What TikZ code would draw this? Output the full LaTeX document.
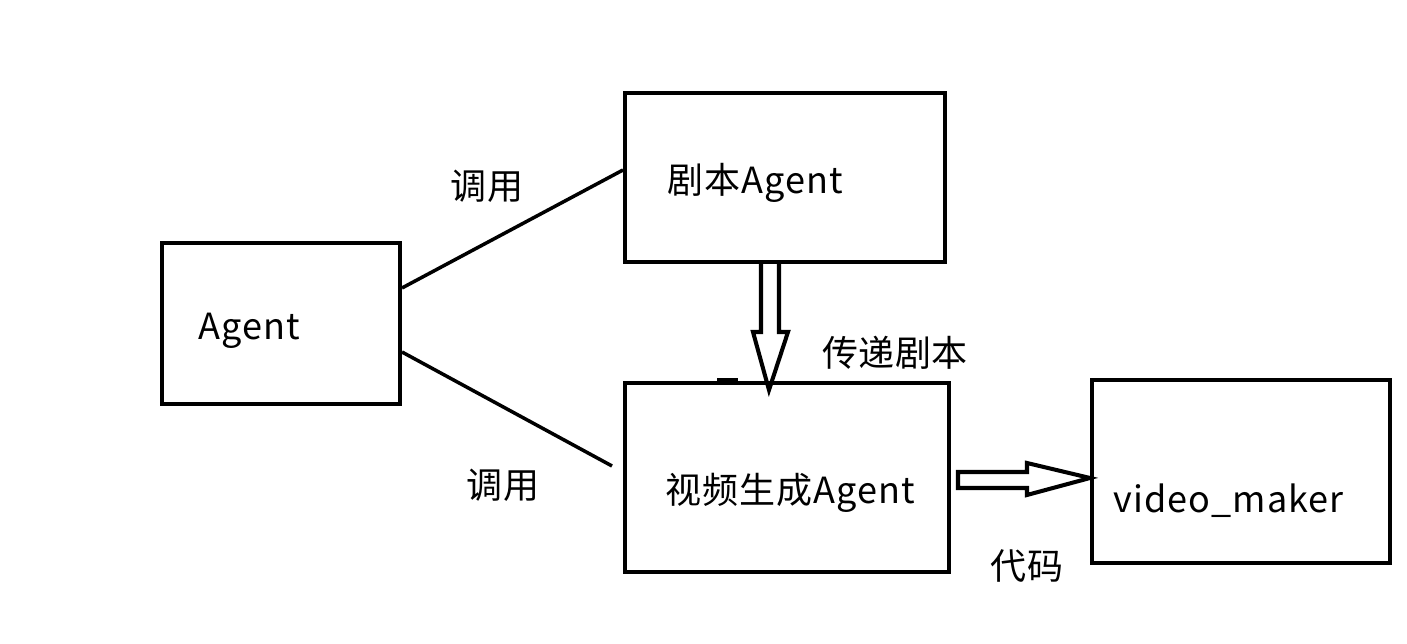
\documentclass[tikz,border=0pt]{standalone}
\usepackage{fontspec}
\setmainfont{Noto Sans CJK SC}
\usetikzlibrary{calc}
\tikzstyle{box}=[draw,line width=2.3pt,inner sep=0pt]
\tikzstyle{txt}=[inner sep=0pt,anchor=west,font=\fontsize{20.5}{24}\selectfont\addfontfeature{LetterSpace=3}]
\tikzstyle{lbl}=[inner sep=0pt,font=\fontsize{20.5}{24}\selectfont]
\tikzstyle{hollow}=[draw,line width=2.3pt,line join=miter]

\begin{document}
\begin{tikzpicture}[x=0.02cm,y=-0.02cm]
\useasboundingbox (0,0) rectangle (1407,644);
\node[box,minimum width=4.76cm,minimum height=3.22cm] at (281,323.5) (agent) {};
\node[box,minimum width=6.4cm,minimum height=3.38cm] at (785,177.5) (script) {};
\node[box,minimum width=6.48cm,minimum height=3.78cm] at (787,477.5) (video) {};
\node[box,minimum width=5.96cm,minimum height=3.66cm] at (1241,471.5) (maker) {};
\node[txt] at (198,331) (agenttxt) {Agent};
\node[txt] at (667,183) (scripttxt) {剧本Agent};
\node[txt] at (665,493) (videotxt) {视频生成Agent};
\node[txt] at (1113,501) (makertxt) {video\_maker};
\node[lbl] at (487,186) (call1) {调用};
\node[lbl] at (503,485) (call2) {调用};
\node[lbl] at (895,353) (pass) {传递剧本};
\node[lbl] at (1027,566) (code) {代码};
% calls
\draw[line width=2pt] ($(agent.east)+(0,-35.5)$) -- ($(script.west)+(0,-7.5)$);
\draw[line width=2pt] ($(agent.east)+(0,28.5)$) -- ($(video.west)+(-11,-11.5)$);
% hollow arrows
\coordinate (d0) at ($(script.south)+(-15,0)$);
\coordinate (d1) at ($(video.north)+(-18,9)$);
\path[hollow] ($(d0)+(-9,0)$) -- ($(d0)+(-9,68)$) -- ($(d0)+(-17,68)$) -- (d1)
  -- ($(d0)+(18,68)$) -- ($(d0)+(9,68)$) -- ($(d0)+(9,0)$);
\coordinate (r0) at ($(video.east)+(7,2.5)$);
\coordinate (r1) at ($(maker.west)+(0,6.5)$);
\path[hollow] (r0) -- ($(r0)+(0,-8)$) -- ($(r0)+(69,-8)$) -- ($(r0)+(69,-17)$) -- (r1)
  -- ($(r0)+(69,15)$) -- ($(r0)+(69,8)$) -- ($(r0)+(0,8)$) -- cycle;
\draw[line width=2.5pt] (717,380) -- (738,380);
\end{tikzpicture}
\end{document}
